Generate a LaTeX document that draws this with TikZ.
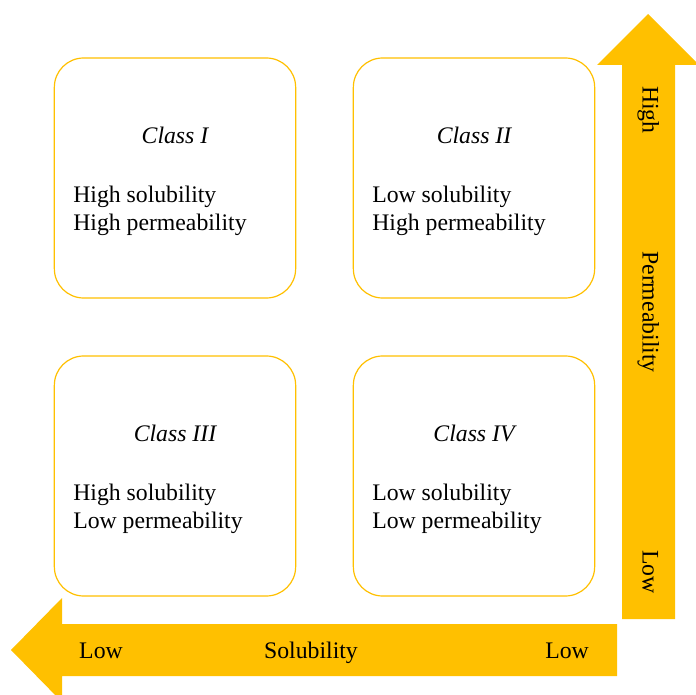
\documentclass[tikz,border=0pt]{standalone}
\usepackage{fontspec}
\setmainfont{Liberation Serif}
\definecolor{gold}{HTML}{FFC000}
\begin{document}
\begin{tikzpicture}[x=0.75pt, y=-0.75pt,
    classbox/.style={draw=gold, line width=0.9pt, rounded corners=22pt, fill=white,
                     minimum width=181pt, minimum height=180pt},
    classname/.style={font=\fontsize{17.8}{21}\selectfont\itshape},
    props/.style={font=\fontsize{17.8}{21}\selectfont, align=left, anchor=west, inner sep=0pt},
    axislabel/.style={font=\fontsize{17.8}{21}\selectfont, inner sep=0pt,
                      text height=12pt, text depth=4pt}]
    \useasboundingbox (0,0) rectangle (696,695);

    % Frecce degli assi
    \fill[gold] (622,619) -- (622,65) -- (597,65) -- (648,14) -- (699,65) -- (675,65) -- (675,619) -- cycle;
    \fill[gold] (617,624) -- (62,624) -- (62,598) -- (11,650) -- (62,702) -- (62,676) -- (617,676) -- cycle;

    % Etichette asse verticale
    \node[axislabel, rotate=-90] (permhigh) at (648,110) {High};
    \node[axislabel, rotate=-90] (permname) at (648,312) {Permeability};
    \node[axislabel, rotate=-90] (permlow) at (648,572) {Low};

    % Etichette asse orizzontale
    \node[axislabel] (sollowa) at (101,653) {Low};
    \node[axislabel] (solname) at (311,653) {Solubility};
    \node[axislabel] (sollowb) at (567,653) {Low};

    % Classe I
    \node[classbox] (box1) at (175,178) {};
    \node[classname] (name1) at (175,135) {Class I};
    \node[props] (prop1) at (73,211) {High solubility\\High permeability};

    % Classe II
    \node[classbox] (box2) at (474,178) {};
    \node[classname] (name2) at (474,135) {Class II};
    \node[props] (prop2) at (372,211) {Low solubility\\High permeability};

    % Classe III
    \node[classbox] (box3) at (175,476) {};
    \node[classname] (name3) at (175,433) {Class III};
    \node[props] (prop3) at (73,509) {High solubility\\Low permeability};

    % Classe IV
    \node[classbox] (box4) at (474,476) {};
    \node[classname] (name4) at (474,433) {Class IV};
    \node[props] (prop4) at (372,509) {Low solubility\\Low permeability};
\end{tikzpicture}
\end{document}
